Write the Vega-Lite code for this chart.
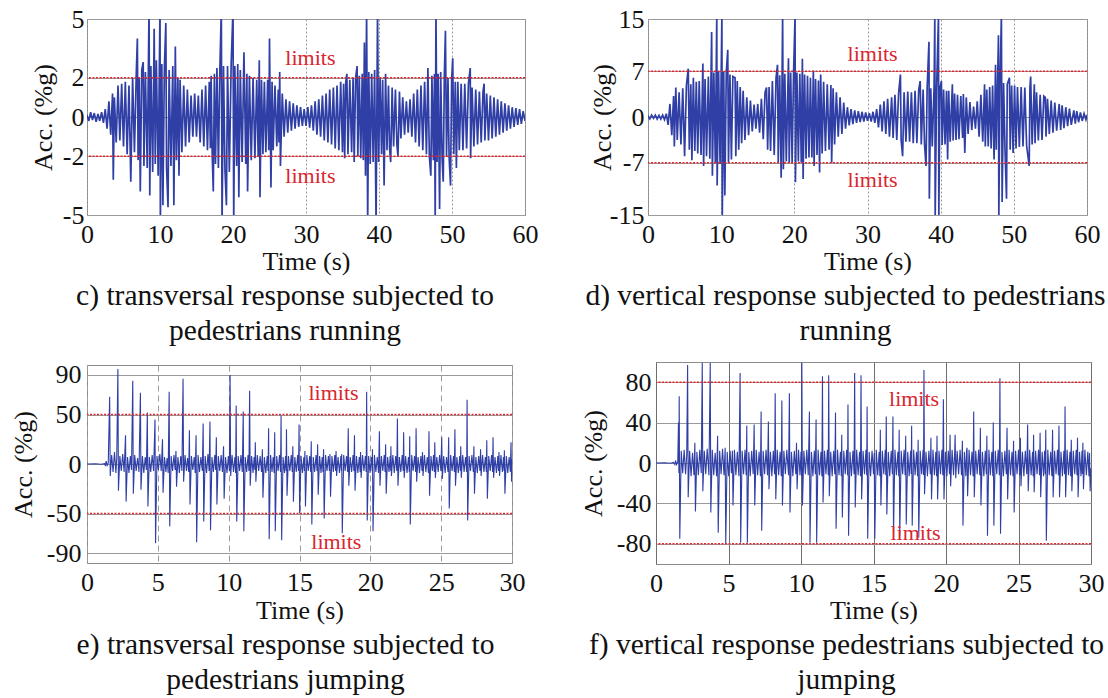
{
"$schema": "https://vega.github.io/schema/vega-lite/v6.json",
"background": "white",
"padding": {"left": 5, "top": 5, "right": 0, "bottom": 0},
"config": {
 "font": "Liberation Serif",
 "view": {"stroke": "#8a8a8a", "strokeWidth": 1},
 "axis": {"labelFont": "Liberation Serif", "labelFontSize": 26, "labelColor": "#111111", "titleFont": "Liberation Serif", "titleFontSize": 26, "titleFontWeight": "normal", "titleColor": "#111111", "domain": false, "ticks": false, "tickSize": 0, "labelPadding": 6, "labelFlush": false, "labelOverlap": false, "gridColor": "#9a9a9a"},
 "title": {"font": "Liberation Serif", "fontSize": 29.5, "fontWeight": "normal", "color": "#111111", "orient": "bottom", "anchor": "middle", "frame": "group", "lineHeight": 35}
},
"datasets": {
"c": [{"t":0,"v":0.1},{"t":0.25,"v":-0.2},{"t":0.5,"v":0.25},{"t":0.75,"v":-0.15},{"t":1,"v":0.2},{"t":1.25,"v":-0.25},{"t":1.5,"v":0.15},{"t":1.75,"v":-0.2},{"t":2,"v":0.25},{"t":2.25,"v":-0.3},{"t":2.5,"v":0.4},{"t":2.75,"v":-0.6},{"t":3,"v":0.8},{"t":3.25,"v":-0.9},{"t":3.5,"v":1.2},{"t":3.6,"v":-3.2},{"t":3.75,"v":1.0},{"t":4,"v":-1.3},{"t":4.25,"v":1.6},{"t":4.5,"v":-1.2},{"t":4.75,"v":1.7},{"t":5,"v":-1.5},{"t":5.25,"v":1.8},{"t":5.5,"v":-1.9},{"t":5.75,"v":1.6},{"t":6,"v":-3.3},{"t":6.25,"v":2.0},{"t":6.5,"v":-1.8},{"t":6.75,"v":2.2},{"t":6.9,"v":4.0},{"t":7,"v":-2.2},{"t":7.15,"v":2.0},{"t":7.3,"v":-3.8},{"t":7.5,"v":2.4},{"t":7.7,"v":2.8},{"t":7.8,"v":-2.5},{"t":8,"v":2.3},{"t":8.25,"v":-2.6},{"t":8.5,"v":5.5},{"t":8.6,"v":-4.0},{"t":8.75,"v":2.6},{"t":9,"v":-2.8},{"t":9.2,"v":4.5},{"t":9.35,"v":-2.4},{"t":9.5,"v":2.9},{"t":9.75,"v":-3.0},{"t":10,"v":5.5},{"t":10.05,"v":-5.5},{"t":10.25,"v":2.7},{"t":10.4,"v":-4.5},{"t":10.6,"v":2.5},{"t":10.8,"v":4.8},{"t":10.9,"v":-2.6},{"t":11.1,"v":-4.6},{"t":11.25,"v":2.4},{"t":11.5,"v":-2.5},{"t":11.75,"v":2.6},{"t":11.9,"v":-4.5},{"t":12.1,"v":3.6},{"t":12.25,"v":-2.2},{"t":12.45,"v":2.0},{"t":12.6,"v":-3.0},{"t":12.75,"v":1.9},{"t":13,"v":-1.8},{"t":13.25,"v":1.6},{"t":13.5,"v":-1.5},{"t":13.75,"v":1.4},{"t":14,"v":-1.3},{"t":14.25,"v":1.1},{"t":14.5,"v":-1.0},{"t":14.75,"v":1.2},{"t":15,"v":-1.0},{"t":15.25,"v":1.1},{"t":15.5,"v":-1.3},{"t":15.75,"v":1.4},{"t":16,"v":-1.5},{"t":16.25,"v":1.6},{"t":16.5,"v":-1.7},{"t":16.75,"v":1.8},{"t":16.9,"v":-1.6},{"t":17,"v":2.1},{"t":17.15,"v":-1.9},{"t":17.3,"v":-3.8},{"t":17.45,"v":2.2},{"t":17.6,"v":-2.4},{"t":17.8,"v":2.5},{"t":18,"v":-2.6},{"t":18.2,"v":2.4},{"t":18.4,"v":5.5},{"t":18.5,"v":-5.5},{"t":18.7,"v":2.6},{"t":18.9,"v":-2.7},{"t":19.1,"v":-4.5},{"t":19.25,"v":2.6},{"t":19.5,"v":-2.8},{"t":19.75,"v":2.7},{"t":20,"v":5.5},{"t":20.1,"v":-5.5},{"t":20.25,"v":2.6},{"t":20.5,"v":-2.5},{"t":20.65,"v":2.7},{"t":20.8,"v":-4.1},{"t":21,"v":2.4},{"t":21.25,"v":-2.3},{"t":21.5,"v":3.3},{"t":21.75,"v":-2.4},{"t":21.9,"v":2.2},{"t":22,"v":-3.8},{"t":22.25,"v":2.1},{"t":22.5,"v":-2.2},{"t":22.75,"v":2.0},{"t":23,"v":-2.1},{"t":23.25,"v":1.9},{"t":23.45,"v":-2.0},{"t":23.6,"v":2.9},{"t":23.7,"v":-4.1},{"t":23.9,"v":1.9},{"t":24.1,"v":-1.9},{"t":24.3,"v":1.8},{"t":24.5,"v":-1.8},{"t":24.75,"v":1.9},{"t":24.9,"v":-1.7},{"t":25,"v":4.0},{"t":25.2,"v":-3.6},{"t":25.35,"v":1.8},{"t":25.5,"v":-1.7},{"t":25.75,"v":1.6},{"t":26,"v":-1.5},{"t":26.2,"v":1.4},{"t":26.3,"v":-1.3},{"t":26.4,"v":2.3},{"t":26.5,"v":-2.5},{"t":26.75,"v":1.2},{"t":27,"v":-1.0},{"t":27.25,"v":0.9},{"t":27.5,"v":-0.8},{"t":27.75,"v":0.8},{"t":28,"v":-0.7},{"t":28.25,"v":0.7},{"t":28.5,"v":-0.6},{"t":28.75,"v":0.6},{"t":29,"v":-0.5},{"t":29.25,"v":0.5},{"t":29.5,"v":-0.45},{"t":29.75,"v":0.4},{"t":30,"v":-0.45},{"t":30.25,"v":0.5},{"t":30.5,"v":-0.55},{"t":30.75,"v":0.6},{"t":31,"v":-0.7},{"t":31.25,"v":0.8},{"t":31.5,"v":-0.9},{"t":31.75,"v":0.9},{"t":32,"v":-1.0},{"t":32.25,"v":1.1},{"t":32.5,"v":-1.2},{"t":32.75,"v":1.2},{"t":33,"v":-1.3},{"t":33.25,"v":1.4},{"t":33.5,"v":-1.4},{"t":33.75,"v":1.5},{"t":34,"v":-1.6},{"t":34.25,"v":1.6},{"t":34.5,"v":-1.7},{"t":34.75,"v":1.8},{"t":35,"v":-1.8},{"t":35.15,"v":1.7},{"t":35.3,"v":-2.1},{"t":35.45,"v":1.8},{"t":35.6,"v":2.2},{"t":35.75,"v":-1.9},{"t":36,"v":1.9},{"t":36.25,"v":-1.8},{"t":36.45,"v":2.0},{"t":36.6,"v":-2.3},{"t":36.8,"v":2.0},{"t":37,"v":2.6},{"t":37.1,"v":-2.0},{"t":37.3,"v":2.1},{"t":37.5,"v":-2.1},{"t":37.7,"v":2.2},{"t":37.85,"v":-2.2},{"t":38,"v":3.8},{"t":38.15,"v":-3.0},{"t":38.3,"v":5.5},{"t":38.45,"v":-5.5},{"t":38.6,"v":2.3},{"t":38.8,"v":-2.4},{"t":39,"v":2.2},{"t":39.2,"v":-2.3},{"t":39.4,"v":2.4},{"t":39.6,"v":-5.5},{"t":39.8,"v":5.5},{"t":39.95,"v":-2.3},{"t":40.15,"v":2.0},{"t":40.35,"v":-1.9},{"t":40.5,"v":1.9},{"t":40.7,"v":-3.5},{"t":40.9,"v":2.2},{"t":41.1,"v":-1.7},{"t":41.3,"v":1.6},{"t":41.45,"v":-1.6},{"t":41.6,"v":-2.3},{"t":41.8,"v":1.5},{"t":42,"v":-1.5},{"t":42.25,"v":1.4},{"t":42.45,"v":-1.4},{"t":42.6,"v":-2.0},{"t":42.8,"v":1.3},{"t":43,"v":-1.1},{"t":43.25,"v":1.0},{"t":43.5,"v":-0.9},{"t":43.75,"v":0.8},{"t":44,"v":-0.8},{"t":44.25,"v":0.9},{"t":44.5,"v":-1.0},{"t":44.75,"v":1.2},{"t":45,"v":-1.3},{"t":45.25,"v":1.4},{"t":45.5,"v":-1.5},{"t":45.75,"v":1.6},{"t":46,"v":-1.7},{"t":46.25,"v":1.8},{"t":46.5,"v":-1.9},{"t":46.7,"v":2.5},{"t":46.9,"v":-2.0},{"t":47.1,"v":-3.0},{"t":47.25,"v":2.1},{"t":47.45,"v":-2.2},{"t":47.6,"v":2.2},{"t":47.7,"v":-5.5},{"t":47.8,"v":5.5},{"t":47.95,"v":-2.3},{"t":48.1,"v":2.2},{"t":48.3,"v":-4.7},{"t":48.45,"v":2.3},{"t":48.65,"v":-2.2},{"t":48.8,"v":-3.3},{"t":48.95,"v":2.1},{"t":49.1,"v":4.4},{"t":49.25,"v":-2.0},{"t":49.45,"v":2.0},{"t":49.6,"v":-2.0},{"t":49.8,"v":-3.5},{"t":49.95,"v":1.9},{"t":50.1,"v":3.0},{"t":50.25,"v":-1.9},{"t":50.45,"v":1.8},{"t":50.6,"v":-2.6},{"t":50.8,"v":1.8},{"t":51,"v":-1.7},{"t":51.25,"v":1.7},{"t":51.5,"v":-1.7},{"t":51.75,"v":1.7},{"t":52,"v":-1.6},{"t":52.25,"v":1.7},{"t":52.5,"v":2.5},{"t":52.55,"v":-2.1},{"t":52.75,"v":1.5},{"t":53,"v":-1.5},{"t":53.25,"v":1.4},{"t":53.5,"v":-1.4},{"t":53.75,"v":1.3},{"t":54,"v":-1.3},{"t":54.25,"v":1.3},{"t":54.4,"v":1.7},{"t":54.5,"v":-1.2},{"t":54.75,"v":1.2},{"t":55,"v":-1.2},{"t":55.25,"v":1.1},{"t":55.5,"v":-1.1},{"t":55.75,"v":1.0},{"t":56,"v":-1.0},{"t":56.25,"v":0.9},{"t":56.5,"v":-0.9},{"t":56.75,"v":0.8},{"t":57,"v":-0.8},{"t":57.25,"v":0.7},{"t":57.5,"v":-0.7},{"t":57.75,"v":0.6},{"t":58,"v":-0.6},{"t":58.25,"v":0.5},{"t":58.5,"v":-0.5},{"t":58.75,"v":0.45},{"t":59,"v":-0.4},{"t":59.25,"v":0.4},{"t":59.5,"v":-0.35},{"t":59.75,"v":0.3},{"t":60,"v":-0.2}],
"d": [{"t":0,"v":0.2},{"t":0.25,"v":-0.3},{"t":0.5,"v":0.3},{"t":0.75,"v":-0.2},{"t":1,"v":0.3},{"t":1.25,"v":-0.3},{"t":1.5,"v":0.25},{"t":1.75,"v":-0.3},{"t":2,"v":0.3},{"t":2.25,"v":-0.4},{"t":2.5,"v":0.5},{"t":2.75,"v":-1.2},{"t":3,"v":2.0},{"t":3.25,"v":-2.8},{"t":3.5,"v":3.2},{"t":3.6,"v":-4.5},{"t":3.8,"v":4.5},{"t":4,"v":-3.5},{"t":4.25,"v":3.8},{"t":4.5,"v":-4.2},{"t":4.75,"v":4.4},{"t":5,"v":-6.0},{"t":5.25,"v":4.8},{"t":5.5,"v":7.4},{"t":5.65,"v":-5.0},{"t":5.85,"v":5.0},{"t":6,"v":-6.6},{"t":6.2,"v":6.0},{"t":6.4,"v":-5.2},{"t":6.6,"v":5.4},{"t":6.8,"v":-5.6},{"t":7,"v":5.5},{"t":7.25,"v":-5.8},{"t":7.5,"v":8.2},{"t":7.6,"v":-7.5},{"t":7.8,"v":5.8},{"t":8,"v":-6.0},{"t":8.25,"v":6.2},{"t":8.45,"v":-6.4},{"t":8.7,"v":13.0},{"t":8.8,"v":-9.0},{"t":9,"v":6.8},{"t":9.2,"v":-7.0},{"t":9.4,"v":15.5},{"t":9.45,"v":-10.5},{"t":9.65,"v":7.0},{"t":9.85,"v":-7.2},{"t":10.1,"v":15.5},{"t":10.15,"v":-15.5},{"t":10.35,"v":7.0},{"t":10.5,"v":-12.0},{"t":10.7,"v":6.8},{"t":10.9,"v":10.3},{"t":11,"v":-7.0},{"t":11.2,"v":6.5},{"t":11.4,"v":-6.5},{"t":11.6,"v":6.2},{"t":11.9,"v":6.0},{"t":12,"v":-6.0},{"t":12.2,"v":5.5},{"t":12.4,"v":-5.0},{"t":12.6,"v":4.6},{"t":12.8,"v":-4.0},{"t":13,"v":4.0},{"t":13.25,"v":-3.5},{"t":13.5,"v":3.0},{"t":13.75,"v":-2.8},{"t":14,"v":2.5},{"t":14.25,"v":-2.2},{"t":14.5,"v":1.9},{"t":14.75,"v":-1.8},{"t":15,"v":2.0},{"t":15.25,"v":-2.4},{"t":15.5,"v":2.8},{"t":15.75,"v":-3.4},{"t":16,"v":3.8},{"t":16.2,"v":4.5},{"t":16.35,"v":-5.0},{"t":16.55,"v":4.6},{"t":16.75,"v":-5.2},{"t":17,"v":5.5},{"t":17.25,"v":-5.8},{"t":17.5,"v":6.0},{"t":17.7,"v":8.0},{"t":17.8,"v":-7.0},{"t":18,"v":6.4},{"t":18.2,"v":-9.3},{"t":18.4,"v":15.5},{"t":18.5,"v":-8.0},{"t":18.7,"v":6.6},{"t":18.9,"v":-6.8},{"t":19.2,"v":9.0},{"t":19.3,"v":-7.0},{"t":19.5,"v":6.8},{"t":19.7,"v":-7.0},{"t":19.9,"v":7.0},{"t":20.1,"v":15.5},{"t":20.15,"v":-10.0},{"t":20.35,"v":6.8},{"t":20.55,"v":-6.8},{"t":20.75,"v":6.6},{"t":20.95,"v":-7.0},{"t":21.1,"v":8.9},{"t":21.2,"v":-9.5},{"t":21.4,"v":6.5},{"t":21.6,"v":-6.4},{"t":21.8,"v":6.3},{"t":22,"v":-6.2},{"t":22.2,"v":6.0},{"t":22.4,"v":-6.2},{"t":22.6,"v":7.1},{"t":22.7,"v":-7.5},{"t":22.9,"v":5.8},{"t":23.1,"v":-5.8},{"t":23.3,"v":5.6},{"t":23.45,"v":-8.5},{"t":23.6,"v":6.5},{"t":23.8,"v":-5.6},{"t":24,"v":5.4},{"t":24.25,"v":-5.2},{"t":24.5,"v":5.0},{"t":24.75,"v":-5.0},{"t":25,"v":4.9},{"t":25.1,"v":-7.0},{"t":25.3,"v":4.4},{"t":25.5,"v":-4.2},{"t":25.75,"v":3.8},{"t":26,"v":-3.0},{"t":26.25,"v":3.0},{"t":26.5,"v":-2.6},{"t":26.75,"v":2.2},{"t":27,"v":-1.8},{"t":27.25,"v":1.5},{"t":27.5,"v":-1.3},{"t":27.75,"v":1.2},{"t":28,"v":-1.1},{"t":28.25,"v":1.0},{"t":28.5,"v":-0.9},{"t":28.75,"v":0.9},{"t":29,"v":-0.8},{"t":29.25,"v":0.8},{"t":29.5,"v":-0.7},{"t":29.75,"v":0.7},{"t":30,"v":-0.6},{"t":30.25,"v":0.6},{"t":30.5,"v":-0.7},{"t":30.75,"v":0.8},{"t":31,"v":-0.9},{"t":31.25,"v":1.2},{"t":31.5,"v":-1.6},{"t":31.75,"v":1.9},{"t":32,"v":-2.2},{"t":32.25,"v":2.4},{"t":32.5,"v":-2.6},{"t":32.75,"v":2.8},{"t":33,"v":-3.0},{"t":33.3,"v":3.0},{"t":33.5,"v":-3.2},{"t":33.75,"v":3.4},{"t":34,"v":-3.5},{"t":34.25,"v":3.6},{"t":34.5,"v":6.5},{"t":34.6,"v":-3.6},{"t":34.8,"v":-6.0},{"t":35,"v":3.8},{"t":35.25,"v":-3.8},{"t":35.5,"v":3.9},{"t":35.75,"v":-3.8},{"t":36,"v":3.8},{"t":36.25,"v":-4.0},{"t":36.5,"v":4.0},{"t":36.75,"v":-4.0},{"t":37,"v":4.2},{"t":37.2,"v":5.5},{"t":37.35,"v":-4.2},{"t":37.6,"v":4.2},{"t":37.8,"v":-4.3},{"t":38,"v":-7.5},{"t":38.15,"v":4.4},{"t":38.4,"v":11.5},{"t":38.45,"v":-12.5},{"t":38.65,"v":4.4},{"t":38.85,"v":-4.5},{"t":39.1,"v":4.6},{"t":39.2,"v":15.5},{"t":39.25,"v":-15.5},{"t":39.45,"v":4.5},{"t":39.7,"v":15.5},{"t":39.75,"v":-15.5},{"t":39.9,"v":4.4},{"t":40.1,"v":5.5},{"t":40.2,"v":-4.3},{"t":40.4,"v":4.2},{"t":40.6,"v":-4.2},{"t":40.8,"v":4.0},{"t":40.95,"v":-6.5},{"t":41.1,"v":4.0},{"t":41.3,"v":-3.8},{"t":41.6,"v":5.0},{"t":41.7,"v":-3.6},{"t":41.9,"v":3.6},{"t":42.1,"v":-3.5},{"t":42.3,"v":3.4},{"t":42.5,"v":-3.4},{"t":42.75,"v":3.2},{"t":43,"v":-3.2},{"t":43.1,"v":3.5},{"t":43.3,"v":-5.5},{"t":43.5,"v":3.0},{"t":43.75,"v":-2.6},{"t":44,"v":2.3},{"t":44.25,"v":-2.0},{"t":44.5,"v":1.6},{"t":44.75,"v":-1.8},{"t":45,"v":2.4},{"t":45.25,"v":-3.0},{"t":45.5,"v":3.4},{"t":45.75,"v":-3.8},{"t":46,"v":5.0},{"t":46.1,"v":-4.5},{"t":46.3,"v":4.2},{"t":46.5,"v":-4.5},{"t":46.7,"v":4.6},{"t":46.9,"v":-4.8},{"t":47.1,"v":4.8},{"t":47.3,"v":-6.5},{"t":47.5,"v":8.0},{"t":47.6,"v":-5.0},{"t":47.9,"v":12.5},{"t":47.95,"v":-15.5},{"t":48.1,"v":5.0},{"t":48.3,"v":15.5},{"t":48.4,"v":-13.0},{"t":48.6,"v":5.2},{"t":48.8,"v":-5.2},{"t":49,"v":-12.5},{"t":49.1,"v":5.0},{"t":49.4,"v":6.0},{"t":49.5,"v":-5.0},{"t":49.7,"v":4.8},{"t":49.9,"v":-5.5},{"t":50.1,"v":4.8},{"t":50.3,"v":-4.8},{"t":50.5,"v":4.6},{"t":50.75,"v":-4.6},{"t":51,"v":4.6},{"t":51.25,"v":-4.5},{"t":51.5,"v":4.5},{"t":51.75,"v":-4.4},{"t":52.1,"v":-7.5},{"t":52.2,"v":4.5},{"t":52.3,"v":6.2},{"t":52.5,"v":-4.2},{"t":52.8,"v":5.0},{"t":52.9,"v":-4.0},{"t":53.1,"v":3.8},{"t":53.35,"v":-3.6},{"t":53.6,"v":3.4},{"t":53.85,"v":-3.5},{"t":54.1,"v":3.2},{"t":54.3,"v":3.0},{"t":54.4,"v":-3.0},{"t":54.6,"v":2.8},{"t":54.85,"v":-2.6},{"t":55.1,"v":2.5},{"t":55.35,"v":-2.4},{"t":55.6,"v":2.2},{"t":55.85,"v":-2.1},{"t":56.2,"v":2.0},{"t":56.4,"v":-2.0},{"t":56.6,"v":1.8},{"t":56.85,"v":-1.7},{"t":57.1,"v":1.5},{"t":57.35,"v":-1.4},{"t":57.6,"v":1.3},{"t":57.85,"v":-1.2},{"t":58.2,"v":1.0},{"t":58.4,"v":-1.0},{"t":58.6,"v":0.9},{"t":58.85,"v":-0.8},{"t":59.1,"v":0.7},{"t":59.35,"v":-0.6},{"t":59.6,"v":0.5},{"t":59.85,"v":-0.4},{"t":60,"v":0.3}],
"e": [{"t":0,"v":0},{"t":0.6,"v":0.3},{"t":1.0,"v":-0.3},{"t":1.25,"v":0.4},{"t":1.3,"v":-2},{"t":1.35,"v":3},{"t":1.42,"v":-1.5},{"t":1.5,"v":1},{"t":1.6,"v":68},{"t":1.64,"v":-12},{"t":1.74,"v":9},{"t":1.84,"v":-8},{"t":1.94,"v":12},{"t":2.04,"v":-9},{"t":2.1,"v":6},{"t":2.18,"v":96},{"t":2.22,"v":-27},{"t":2.32,"v":8},{"t":2.42,"v":-7},{"t":2.52,"v":10},{"t":2.62,"v":-8},{"t":2.72,"v":29},{"t":2.76,"v":-38},{"t":2.86,"v":7},{"t":2.96,"v":-9},{"t":3.06,"v":8},{"t":3.14,"v":-6},{"t":3.23,"v":84},{"t":3.27,"v":-30},{"t":3.37,"v":9},{"t":3.47,"v":-7},{"t":3.57,"v":6},{"t":3.67,"v":-8},{"t":3.77,"v":72},{"t":3.81,"v":-26},{"t":3.91,"v":8},{"t":4.01,"v":-9},{"t":4.11,"v":7},{"t":4.19,"v":-6},{"t":4.26,"v":52},{"t":4.3,"v":-43},{"t":4.4,"v":7},{"t":4.5,"v":-8},{"t":4.6,"v":9},{"t":4.7,"v":-7},{"t":4.8,"v":45},{"t":4.84,"v":-80},{"t":4.94,"v":8},{"t":5.04,"v":-6},{"t":5.14,"v":10},{"t":5.24,"v":-7},{"t":5.33,"v":25},{"t":5.37,"v":-29},{"t":5.47,"v":7},{"t":5.57,"v":-8},{"t":5.65,"v":6},{"t":5.73,"v":-9},{"t":5.8,"v":73},{"t":5.84,"v":-63},{"t":5.94,"v":8},{"t":6.04,"v":-7},{"t":6.14,"v":9},{"t":6.22,"v":-6},{"t":6.28,"v":13},{"t":6.32,"v":-23},{"t":6.42,"v":7},{"t":6.52,"v":-9},{"t":6.62,"v":8},{"t":6.7,"v":-7},{"t":6.78,"v":86},{"t":6.82,"v":-18},{"t":6.92,"v":9},{"t":7.02,"v":-7},{"t":7.1,"v":6},{"t":7.18,"v":-8},{"t":7.23,"v":34},{"t":7.27,"v":-41},{"t":7.37,"v":8},{"t":7.47,"v":-6},{"t":7.57,"v":7},{"t":7.64,"v":-9},{"t":7.7,"v":29},{"t":7.74,"v":-79},{"t":7.84,"v":9},{"t":7.94,"v":-8},{"t":8.04,"v":7},{"t":8.14,"v":-7},{"t":8.2,"v":41},{"t":8.24,"v":-58},{"t":8.34,"v":8},{"t":8.44,"v":-9},{"t":8.54,"v":10},{"t":8.62,"v":-7},{"t":8.68,"v":43},{"t":8.72,"v":-67},{"t":8.82,"v":7},{"t":8.92,"v":-8},{"t":9.02,"v":9},{"t":9.08,"v":-6},{"t":9.13,"v":27},{"t":9.17,"v":-41},{"t":9.27,"v":8},{"t":9.37,"v":-7},{"t":9.47,"v":9},{"t":9.56,"v":-8},{"t":9.64,"v":18},{"t":9.68,"v":-35},{"t":9.78,"v":7},{"t":9.88,"v":-9},{"t":9.98,"v":8},{"t":10.05,"v":-7},{"t":10.1,"v":90},{"t":10.14,"v":-12},{"t":10.24,"v":9},{"t":10.34,"v":-8},{"t":10.44,"v":7},{"t":10.49,"v":-9},{"t":10.53,"v":59},{"t":10.57,"v":-58},{"t":10.67,"v":8},{"t":10.77,"v":-7},{"t":10.87,"v":9},{"t":10.96,"v":-8},{"t":11.03,"v":53},{"t":11.07,"v":-68},{"t":11.17,"v":7},{"t":11.27,"v":-8},{"t":11.37,"v":9},{"t":11.43,"v":-7},{"t":11.48,"v":74},{"t":11.52,"v":-22},{"t":11.62,"v":8},{"t":11.72,"v":-9},{"t":11.8,"v":7},{"t":11.85,"v":-6},{"t":11.88,"v":22},{"t":11.92,"v":-18},{"t":12.02,"v":9},{"t":12.12,"v":-7},{"t":12.22,"v":8},{"t":12.32,"v":-8},{"t":12.38,"v":15},{"t":12.42,"v":-34},{"t":12.52,"v":7},{"t":12.62,"v":-9},{"t":12.72,"v":8},{"t":12.78,"v":-7},{"t":12.82,"v":36},{"t":12.86,"v":-76},{"t":12.96,"v":9},{"t":13.06,"v":-8},{"t":13.14,"v":7},{"t":13.21,"v":-9},{"t":13.25,"v":32},{"t":13.29,"v":-68},{"t":13.39,"v":8},{"t":13.49,"v":-7},{"t":13.59,"v":9},{"t":13.66,"v":-8},{"t":13.7,"v":49},{"t":13.74,"v":-77},{"t":13.84,"v":7},{"t":13.94,"v":-9},{"t":14.02,"v":8},{"t":14.06,"v":-7},{"t":14.08,"v":35},{"t":14.12,"v":-32},{"t":14.22,"v":8},{"t":14.32,"v":-7},{"t":14.42,"v":9},{"t":14.49,"v":-8},{"t":14.53,"v":18},{"t":14.57,"v":-38},{"t":14.67,"v":7},{"t":14.77,"v":-8},{"t":14.87,"v":9},{"t":14.93,"v":-7},{"t":14.97,"v":40},{"t":15.01,"v":-50},{"t":15.11,"v":8},{"t":15.21,"v":-9},{"t":15.31,"v":7},{"t":15.35,"v":-7},{"t":15.38,"v":13},{"t":15.42,"v":-43},{"t":15.52,"v":9},{"t":15.62,"v":-7},{"t":15.72,"v":8},{"t":15.79,"v":-8},{"t":15.83,"v":23},{"t":15.87,"v":-61},{"t":15.97,"v":7},{"t":16.07,"v":-8},{"t":16.17,"v":9},{"t":16.24,"v":-7},{"t":16.28,"v":20},{"t":16.32,"v":-31},{"t":16.42,"v":8},{"t":16.52,"v":-9},{"t":16.6,"v":7},{"t":16.66,"v":-8},{"t":16.7,"v":15},{"t":16.74,"v":-55},{"t":16.84,"v":9},{"t":16.94,"v":-7},{"t":17.04,"v":8},{"t":17.11,"v":-7},{"t":17.15,"v":10},{"t":17.19,"v":-33},{"t":17.29,"v":8},{"t":17.39,"v":-8},{"t":17.49,"v":9},{"t":17.55,"v":-7},{"t":17.58,"v":13},{"t":17.62,"v":-12},{"t":17.72,"v":7},{"t":17.82,"v":-9},{"t":17.92,"v":8},{"t":17.96,"v":-7},{"t":17.98,"v":10},{"t":18.02,"v":-70},{"t":18.12,"v":9},{"t":18.22,"v":-7},{"t":18.32,"v":8},{"t":18.4,"v":-8},{"t":18.44,"v":36},{"t":18.48,"v":-22},{"t":18.58,"v":7},{"t":18.68,"v":-8},{"t":18.78,"v":9},{"t":18.84,"v":-7},{"t":18.88,"v":29},{"t":18.92,"v":-27},{"t":19.02,"v":8},{"t":19.12,"v":-9},{"t":19.22,"v":7},{"t":19.28,"v":-8},{"t":19.31,"v":12},{"t":19.35,"v":-14},{"t":19.45,"v":9},{"t":19.55,"v":-7},{"t":19.65,"v":8},{"t":19.71,"v":-8},{"t":19.74,"v":73},{"t":19.78,"v":-57},{"t":19.88,"v":8},{"t":19.98,"v":-9},{"t":20.08,"v":7},{"t":20.13,"v":-7},{"t":20.15,"v":15},{"t":20.19,"v":-68},{"t":20.29,"v":9},{"t":20.39,"v":-8},{"t":20.49,"v":7},{"t":20.58,"v":-9},{"t":20.64,"v":33},{"t":20.68,"v":-22},{"t":20.78,"v":8},{"t":20.88,"v":-7},{"t":20.98,"v":9},{"t":21.04,"v":-8},{"t":21.08,"v":20},{"t":21.12,"v":-30},{"t":21.22,"v":7},{"t":21.32,"v":-8},{"t":21.4,"v":8},{"t":21.44,"v":-7},{"t":21.45,"v":18},{"t":21.49,"v":-12},{"t":21.59,"v":9},{"t":21.69,"v":-9},{"t":21.79,"v":8},{"t":21.87,"v":-7},{"t":21.91,"v":46},{"t":21.95,"v":-22},{"t":22.05,"v":7},{"t":22.15,"v":-8},{"t":22.25,"v":9},{"t":22.32,"v":-7},{"t":22.35,"v":32},{"t":22.39,"v":-14},{"t":22.49,"v":8},{"t":22.59,"v":-9},{"t":22.69,"v":7},{"t":22.75,"v":-8},{"t":22.78,"v":28},{"t":22.82,"v":-61},{"t":22.92,"v":9},{"t":23.02,"v":-7},{"t":23.12,"v":8},{"t":23.2,"v":-8},{"t":23.23,"v":36},{"t":23.27,"v":-18},{"t":23.37,"v":7},{"t":23.47,"v":-9},{"t":23.57,"v":8},{"t":23.65,"v":-7},{"t":23.68,"v":12},{"t":23.72,"v":-12},{"t":23.82,"v":9},{"t":23.92,"v":-8},{"t":24.02,"v":7},{"t":24.1,"v":-9},{"t":24.14,"v":33},{"t":24.18,"v":-32},{"t":24.28,"v":8},{"t":24.38,"v":-7},{"t":24.46,"v":9},{"t":24.52,"v":-8},{"t":24.55,"v":22},{"t":24.59,"v":-14},{"t":24.69,"v":7},{"t":24.79,"v":-8},{"t":24.89,"v":9},{"t":24.98,"v":-7},{"t":25.04,"v":27},{"t":25.08,"v":-15},{"t":25.18,"v":8},{"t":25.28,"v":-9},{"t":25.38,"v":7},{"t":25.48,"v":-8},{"t":25.53,"v":27},{"t":25.57,"v":-45},{"t":25.67,"v":9},{"t":25.77,"v":-7},{"t":25.87,"v":8},{"t":25.93,"v":-8},{"t":25.97,"v":35},{"t":26.01,"v":-22},{"t":26.11,"v":7},{"t":26.21,"v":-9},{"t":26.31,"v":8},{"t":26.36,"v":-7},{"t":26.38,"v":18},{"t":26.42,"v":-14},{"t":26.52,"v":9},{"t":26.62,"v":-8},{"t":26.72,"v":7},{"t":26.8,"v":-8},{"t":26.83,"v":65},{"t":26.87,"v":-57},{"t":26.97,"v":8},{"t":27.07,"v":-7},{"t":27.17,"v":9},{"t":27.27,"v":-8},{"t":27.31,"v":18},{"t":27.35,"v":-30},{"t":27.45,"v":7},{"t":27.55,"v":-9},{"t":27.65,"v":8},{"t":27.74,"v":-7},{"t":27.78,"v":15},{"t":27.82,"v":-12},{"t":27.92,"v":9},{"t":28.02,"v":-8},{"t":28.12,"v":7},{"t":28.19,"v":-8},{"t":28.22,"v":24},{"t":28.26,"v":-35},{"t":28.36,"v":8},{"t":28.46,"v":-7},{"t":28.56,"v":9},{"t":28.63,"v":-8},{"t":28.66,"v":27},{"t":28.7,"v":-14},{"t":28.8,"v":7},{"t":28.9,"v":-9},{"t":29.0,"v":8},{"t":29.05,"v":-7},{"t":29.08,"v":12},{"t":29.12,"v":-12},{"t":29.22,"v":9},{"t":29.32,"v":-8},{"t":29.4,"v":7},{"t":29.44,"v":-7},{"t":29.46,"v":14},{"t":29.5,"v":-30},{"t":29.6,"v":8},{"t":29.7,"v":-9},{"t":29.8,"v":7},{"t":29.88,"v":-8},{"t":29.93,"v":22},{"t":29.97,"v":-18},{"t":30,"v":5}],
"f": [{"t":0,"v":0},{"t":0.6,"v":0.3},{"t":1.0,"v":-0.3},{"t":1.2,"v":0.5},{"t":1.3,"v":-1.5},{"t":1.35,"v":2.5},{"t":1.42,"v":-1.5},{"t":1.5,"v":1},{"t":1.55,"v":40},{"t":1.58,"v":-10},{"t":1.6,"v":66},{"t":1.64,"v":-75},{"t":1.74,"v":12},{"t":1.84,"v":-10},{"t":1.94,"v":13},{"t":2.04,"v":-11},{"t":2.12,"v":9},{"t":2.18,"v":97},{"t":2.22,"v":-34},{"t":2.32,"v":12},{"t":2.42,"v":-13},{"t":2.52,"v":10},{"t":2.62,"v":-12},{"t":2.68,"v":20},{"t":2.72,"v":-48},{"t":2.82,"v":11},{"t":2.92,"v":-12},{"t":3.02,"v":13},{"t":3.12,"v":-10},{"t":3.19,"v":99},{"t":3.23,"v":-28},{"t":3.33,"v":12},{"t":3.43,"v":-11},{"t":3.53,"v":14},{"t":3.65,"v":-12},{"t":3.74,"v":99},{"t":3.78,"v":-49},{"t":3.88,"v":13},{"t":3.98,"v":-12},{"t":4.08,"v":10},{"t":4.18,"v":-13},{"t":4.25,"v":27},{"t":4.29,"v":-69},{"t":4.39,"v":12},{"t":4.49,"v":-11},{"t":4.59,"v":14},{"t":4.69,"v":-12},{"t":4.77,"v":15},{"t":4.81,"v":-80},{"t":4.91,"v":11},{"t":5.01,"v":-13},{"t":5.11,"v":12},{"t":5.2,"v":-10},{"t":5.27,"v":12},{"t":5.31,"v":-42},{"t":5.41,"v":13},{"t":5.51,"v":-12},{"t":5.61,"v":11},{"t":5.72,"v":-13},{"t":5.8,"v":89},{"t":5.84,"v":-79},{"t":5.94,"v":12},{"t":6.04,"v":-11},{"t":6.14,"v":13},{"t":6.22,"v":-12},{"t":6.26,"v":37},{"t":6.3,"v":-79},{"t":6.4,"v":11},{"t":6.5,"v":-13},{"t":6.6,"v":12},{"t":6.7,"v":-11},{"t":6.77,"v":38},{"t":6.81,"v":-42},{"t":6.91,"v":13},{"t":7.01,"v":-12},{"t":7.11,"v":11},{"t":7.2,"v":-13},{"t":7.25,"v":51},{"t":7.29,"v":-67},{"t":7.39,"v":12},{"t":7.49,"v":-11},{"t":7.59,"v":13},{"t":7.69,"v":-12},{"t":7.75,"v":41},{"t":7.79,"v":-26},{"t":7.89,"v":11},{"t":7.99,"v":-13},{"t":8.09,"v":12},{"t":8.18,"v":-11},{"t":8.22,"v":69},{"t":8.26,"v":-36},{"t":8.36,"v":13},{"t":8.46,"v":-12},{"t":8.56,"v":11},{"t":8.64,"v":-13},{"t":8.68,"v":62},{"t":8.72,"v":-42},{"t":8.82,"v":12},{"t":8.92,"v":-11},{"t":9.02,"v":13},{"t":9.14,"v":-12},{"t":9.2,"v":69},{"t":9.24,"v":-49},{"t":9.34,"v":11},{"t":9.44,"v":-13},{"t":9.54,"v":12},{"t":9.64,"v":-11},{"t":9.69,"v":20},{"t":9.73,"v":-26},{"t":9.83,"v":13},{"t":9.93,"v":-12},{"t":10.0,"v":11},{"t":10.04,"v":-13},{"t":10.06,"v":99},{"t":10.1,"v":-42},{"t":10.2,"v":12},{"t":10.3,"v":-11},{"t":10.4,"v":13},{"t":10.5,"v":-12},{"t":10.58,"v":51},{"t":10.62,"v":-79},{"t":10.72,"v":11},{"t":10.82,"v":-13},{"t":10.92,"v":12},{"t":10.99,"v":-11},{"t":11.04,"v":43},{"t":11.08,"v":-79},{"t":11.18,"v":13},{"t":11.28,"v":-12},{"t":11.38,"v":11},{"t":11.44,"v":-13},{"t":11.48,"v":86},{"t":11.52,"v":-39},{"t":11.62,"v":12},{"t":11.72,"v":-11},{"t":11.82,"v":13},{"t":11.88,"v":-12},{"t":11.91,"v":87},{"t":11.95,"v":-33},{"t":12.05,"v":11},{"t":12.15,"v":-13},{"t":12.25,"v":12},{"t":12.33,"v":-11},{"t":12.38,"v":50},{"t":12.42,"v":-65},{"t":12.52,"v":13},{"t":12.62,"v":-12},{"t":12.72,"v":11},{"t":12.78,"v":-13},{"t":12.81,"v":28},{"t":12.85,"v":-54},{"t":12.95,"v":12},{"t":13.05,"v":-11},{"t":13.15,"v":13},{"t":13.21,"v":-12},{"t":13.24,"v":58},{"t":13.28,"v":-72},{"t":13.38,"v":11},{"t":13.48,"v":-13},{"t":13.58,"v":12},{"t":13.66,"v":-11},{"t":13.7,"v":89},{"t":13.74,"v":-44},{"t":13.84,"v":13},{"t":13.94,"v":-12},{"t":14.04,"v":11},{"t":14.1,"v":-13},{"t":14.14,"v":87},{"t":14.18,"v":-36},{"t":14.28,"v":12},{"t":14.38,"v":-11},{"t":14.48,"v":13},{"t":14.53,"v":-12},{"t":14.56,"v":56},{"t":14.6,"v":-75},{"t":14.7,"v":11},{"t":14.8,"v":-13},{"t":14.9,"v":12},{"t":15.0,"v":-11},{"t":15.05,"v":10},{"t":15.09,"v":-75},{"t":15.19,"v":13},{"t":15.29,"v":-12},{"t":15.39,"v":11},{"t":15.44,"v":-13},{"t":15.47,"v":33},{"t":15.51,"v":-42},{"t":15.61,"v":12},{"t":15.71,"v":-11},{"t":15.81,"v":13},{"t":15.85,"v":-12},{"t":15.88,"v":46},{"t":15.92,"v":-51},{"t":16.02,"v":11},{"t":16.12,"v":-13},{"t":16.22,"v":12},{"t":16.3,"v":-11},{"t":16.34,"v":46},{"t":16.38,"v":-69},{"t":16.48,"v":13},{"t":16.58,"v":-12},{"t":16.68,"v":11},{"t":16.74,"v":-13},{"t":16.77,"v":33},{"t":16.81,"v":-72},{"t":16.91,"v":12},{"t":17.01,"v":-11},{"t":17.11,"v":13},{"t":17.18,"v":-12},{"t":17.22,"v":27},{"t":17.26,"v":-61},{"t":17.36,"v":11},{"t":17.46,"v":-13},{"t":17.56,"v":12},{"t":17.6,"v":-11},{"t":17.63,"v":37},{"t":17.67,"v":-62},{"t":17.77,"v":13},{"t":17.87,"v":-12},{"t":17.97,"v":11},{"t":18.04,"v":-13},{"t":18.08,"v":23},{"t":18.12,"v":-74},{"t":18.22,"v":12},{"t":18.32,"v":-11},{"t":18.42,"v":13},{"t":18.45,"v":-12},{"t":18.48,"v":92},{"t":18.52,"v":-31},{"t":18.62,"v":11},{"t":18.72,"v":-13},{"t":18.82,"v":12},{"t":18.92,"v":-11},{"t":18.96,"v":25},{"t":19.0,"v":-36},{"t":19.1,"v":13},{"t":19.2,"v":-12},{"t":19.3,"v":11},{"t":19.35,"v":-13},{"t":19.38,"v":27},{"t":19.42,"v":-36},{"t":19.52,"v":12},{"t":19.62,"v":-11},{"t":19.72,"v":13},{"t":19.78,"v":-12},{"t":19.82,"v":63},{"t":19.86,"v":-36},{"t":19.96,"v":11},{"t":20.06,"v":-13},{"t":20.16,"v":12},{"t":20.24,"v":-11},{"t":20.28,"v":28},{"t":20.32,"v":-23},{"t":20.42,"v":13},{"t":20.52,"v":-12},{"t":20.6,"v":11},{"t":20.63,"v":28},{"t":20.67,"v":-15},{"t":20.77,"v":12},{"t":20.87,"v":-11},{"t":20.97,"v":13},{"t":21.07,"v":-12},{"t":21.13,"v":22},{"t":21.17,"v":-62},{"t":21.27,"v":11},{"t":21.37,"v":-13},{"t":21.42,"v":12},{"t":21.45,"v":15},{"t":21.49,"v":-33},{"t":21.59,"v":13},{"t":21.69,"v":-12},{"t":21.79,"v":11},{"t":21.87,"v":-13},{"t":21.91,"v":51},{"t":21.95,"v":-34},{"t":22.05,"v":12},{"t":22.15,"v":-11},{"t":22.25,"v":13},{"t":22.33,"v":-12},{"t":22.37,"v":35},{"t":22.41,"v":-42},{"t":22.51,"v":11},{"t":22.61,"v":-13},{"t":22.71,"v":12},{"t":22.78,"v":-11},{"t":22.82,"v":27},{"t":22.86,"v":-72},{"t":22.96,"v":13},{"t":23.06,"v":-12},{"t":23.16,"v":11},{"t":23.23,"v":-13},{"t":23.26,"v":40},{"t":23.3,"v":-62},{"t":23.4,"v":12},{"t":23.5,"v":-11},{"t":23.6,"v":13},{"t":23.68,"v":-12},{"t":23.72,"v":84},{"t":23.76,"v":-70},{"t":23.86,"v":11},{"t":23.96,"v":-13},{"t":24.06,"v":12},{"t":24.16,"v":-11},{"t":24.21,"v":35},{"t":24.25,"v":-36},{"t":24.35,"v":13},{"t":24.45,"v":-12},{"t":24.55,"v":11},{"t":24.62,"v":-13},{"t":24.66,"v":22},{"t":24.7,"v":-49},{"t":24.8,"v":12},{"t":24.9,"v":-11},{"t":25.0,"v":13},{"t":25.08,"v":-12},{"t":25.13,"v":25},{"t":25.17,"v":-23},{"t":25.27,"v":11},{"t":25.37,"v":-13},{"t":25.47,"v":12},{"t":25.57,"v":-11},{"t":25.63,"v":38},{"t":25.67,"v":-28},{"t":25.77,"v":13},{"t":25.87,"v":-12},{"t":25.97,"v":11},{"t":26.01,"v":-13},{"t":26.04,"v":28},{"t":26.08,"v":-29},{"t":26.18,"v":12},{"t":26.28,"v":-11},{"t":26.38,"v":13},{"t":26.45,"v":-12},{"t":26.49,"v":30},{"t":26.53,"v":-34},{"t":26.63,"v":11},{"t":26.73,"v":-13},{"t":26.8,"v":12},{"t":26.85,"v":-11},{"t":26.88,"v":33},{"t":26.92,"v":-77},{"t":27.02,"v":13},{"t":27.12,"v":-12},{"t":27.22,"v":11},{"t":27.3,"v":-13},{"t":27.35,"v":33},{"t":27.39,"v":-34},{"t":27.49,"v":12},{"t":27.59,"v":-11},{"t":27.69,"v":13},{"t":27.75,"v":-12},{"t":27.79,"v":37},{"t":27.83,"v":-34},{"t":27.93,"v":11},{"t":28.03,"v":-13},{"t":28.13,"v":12},{"t":28.18,"v":-11},{"t":28.21,"v":56},{"t":28.25,"v":-34},{"t":28.35,"v":13},{"t":28.45,"v":-12},{"t":28.55,"v":11},{"t":28.6,"v":-13},{"t":28.64,"v":23},{"t":28.68,"v":-28},{"t":28.78,"v":12},{"t":28.88,"v":-11},{"t":28.98,"v":13},{"t":29.03,"v":-12},{"t":29.07,"v":25},{"t":29.11,"v":-34},{"t":29.21,"v":11},{"t":29.31,"v":-13},{"t":29.38,"v":12},{"t":29.41,"v":-11},{"t":29.44,"v":20},{"t":29.48,"v":-26},{"t":29.58,"v":13},{"t":29.68,"v":-12},{"t":29.78,"v":11},{"t":29.86,"v":-13},{"t":29.9,"v":10},{"t":29.94,"v":-28},{"t":30,"v":-5}]
},
"columns": 2,
"align": "none",
"bounds": "full",
"spacing": {"row": 15, "column": 38},
"concat": [
 {
  "width": 438, "height": 196,
  "title": {"text": ["c) transversal response subjected to", "pedestrians running"], "dx": -21, "offset": 8},
  "layer": [
   {"data": {"name": "c"}, "mark": {"type": "line", "color": "#2f3fa6", "strokeWidth": 1.7, "clip": true},
    "encoding": {
     "x": {"field": "t", "type": "quantitative", "scale": {"domain": [0, 60], "nice": false, "zero": false}, "axis": {"values": [0, 10, 20, 30, 40, 50, 60], "title": "Time (s)", "titleY": 33, "grid": true, "gridDash": [2, 2]}},
     "y": {"field": "v", "type": "quantitative", "scale": {"domain": [-5, 5], "nice": false}, "axis": {"values": [-5, -2, 0, 2, 5], "labelExpr": "replace(datum.label, '−', '-')", "title": "Acc. (%g)", "titleX": -31, "minExtent": 81, "labelPadding": 3}}
    }},
   {"data": {"values": [{"lim": 2}, {"lim": -2}]}, "mark": {"type": "rule", "color": "#e3262e", "strokeDash": [2, 1.5], "strokeWidth": 1.5},
    "encoding": {"y": {"field": "lim", "type": "quantitative"}}},
   {"data": {"values": [{"t": 30.6, "v": 3.0, "s": "limits"}, {"t": 30.6, "v": -3.0, "s": "limits"}]}, "mark": {"type": "text", "color": "#d8262e", "fontSize": 22, "font": "Liberation Serif"},
    "encoding": {"x": {"field": "t", "type": "quantitative"}, "y": {"field": "v", "type": "quantitative"}, "text": {"field": "s"}}}
  ]
 },
 {
  "width": 439, "height": 196,
  "title": {"text": ["d) vertical response subjected to pedestrians", "running"], "dx": -22, "offset": 8},
  "layer": [
   {"data": {"name": "d"}, "mark": {"type": "line", "color": "#2f3fa6", "strokeWidth": 1.7, "clip": true},
    "encoding": {
     "x": {"field": "t", "type": "quantitative", "scale": {"domain": [0, 60], "nice": false, "zero": false}, "axis": {"values": [0, 10, 20, 30, 40, 50, 60], "title": "Time (s)", "titleY": 33, "grid": true, "gridDash": [2, 2]}},
     "y": {"field": "v", "type": "quantitative", "scale": {"domain": [-15, 15], "nice": false}, "axis": {"values": [-15, -7, 0, 7, 15], "labelExpr": "replace(datum.label, '−', '-')", "title": "Acc. (%g)", "titleX": -33, "minExtent": 70, "labelPadding": 4}}
    }},
   {"data": {"values": [{"lim": 7}, {"lim": -7}]}, "mark": {"type": "rule", "color": "#e3262e", "strokeDash": [2, 1.5], "strokeWidth": 1.5},
    "encoding": {"y": {"field": "lim", "type": "quantitative"}}},
   {"data": {"values": [{"t": 30.7, "v": 9.6, "s": "limits"}, {"t": 30.7, "v": -9.7, "s": "limits"}]}, "mark": {"type": "text", "color": "#d8262e", "fontSize": 22, "font": "Liberation Serif"},
    "encoding": {"x": {"field": "t", "type": "quantitative"}, "y": {"field": "v", "type": "quantitative"}, "text": {"field": "s"}}}
  ]
 },
 {
  "width": 425, "height": 198,
  "title": {"text": ["e) transversal response subjected to", "pedestrians jumping"], "dx": -14, "offset": 8},
  "layer": [
   {"data": {"name": "e"}, "mark": {"type": "line", "color": "#2f3fa6", "strokeWidth": 1.1, "clip": true},
    "encoding": {
     "x": {"field": "t", "type": "quantitative", "scale": {"domain": [0, 30], "nice": false, "zero": false}, "axis": {"values": [0, 5, 10, 15, 20, 25, 30], "title": "Time (s)", "titleY": 34, "grid": true, "gridDash": [6, 4]}},
     "y": {"field": "v", "type": "quantitative", "scale": {"domain": [-100, 100], "nice": false}, "axis": {"values": [-90, -50, 0, 50, 90], "labelExpr": "replace(datum.label, '−', '-')", "title": "Acc. (%g)", "titleX": -51, "minExtent": 81, "labelPadding": 6}}
    }},
   {"data": {"values": [{"lim": 50}, {"lim": -50}]}, "mark": {"type": "rule", "color": "#e3262e", "strokeDash": [2, 1.5], "strokeWidth": 1.5},
    "encoding": {"y": {"field": "lim", "type": "quantitative"}}},
   {"data": {"values": [{"t": 17.4, "v": 72, "s": "limits"}, {"t": 17.6, "v": -79, "s": "limits"}]}, "mark": {"type": "text", "color": "#d8262e", "fontSize": 22, "font": "Liberation Serif"},
    "encoding": {"x": {"field": "t", "type": "quantitative"}, "y": {"field": "v", "type": "quantitative"}, "text": {"field": "s"}}}
  ]
 },
 {
  "width": 435, "height": 202,
  "title": {"text": ["f) vertical response pedestrians subjected to", "jumping"], "dx": -27, "offset": 8},
  "layer": [
   {"data": {"name": "f"}, "mark": {"type": "line", "color": "#2f3fa6", "strokeWidth": 1.1, "clip": true},
    "encoding": {
     "x": {"field": "t", "type": "quantitative", "scale": {"domain": [0, 30], "nice": false, "zero": false}, "axis": {"values": [0, 5, 10, 15, 20, 25, 30], "title": "Time (s)", "titleY": 33, "grid": true, "gridColor": "#6e6e6e"}},
     "y": {"field": "v", "type": "quantitative", "scale": {"domain": [-100, 100], "nice": false}, "axis": {"values": [-80, -40, 0, 40, 80], "labelExpr": "replace(datum.label, '−', '-')", "title": "Acc. (%g)", "titleX": -50, "minExtent": 78, "labelPadding": 5}}
    }},
   {"data": {"values": [{"lim": 80}, {"lim": -80}]}, "mark": {"type": "rule", "color": "#e3262e", "strokeDash": [2, 1.5], "strokeWidth": 1.5},
    "encoding": {"y": {"field": "lim", "type": "quantitative"}}},
   {"data": {"values": [{"t": 17.8, "v": 63, "s": "limits"}, {"t": 17.9, "v": -69, "s": "limits"}]}, "mark": {"type": "text", "color": "#d8262e", "fontSize": 22, "font": "Liberation Serif"},
    "encoding": {"x": {"field": "t", "type": "quantitative"}, "y": {"field": "v", "type": "quantitative"}, "text": {"field": "s"}}}
  ]
 }
]
}
